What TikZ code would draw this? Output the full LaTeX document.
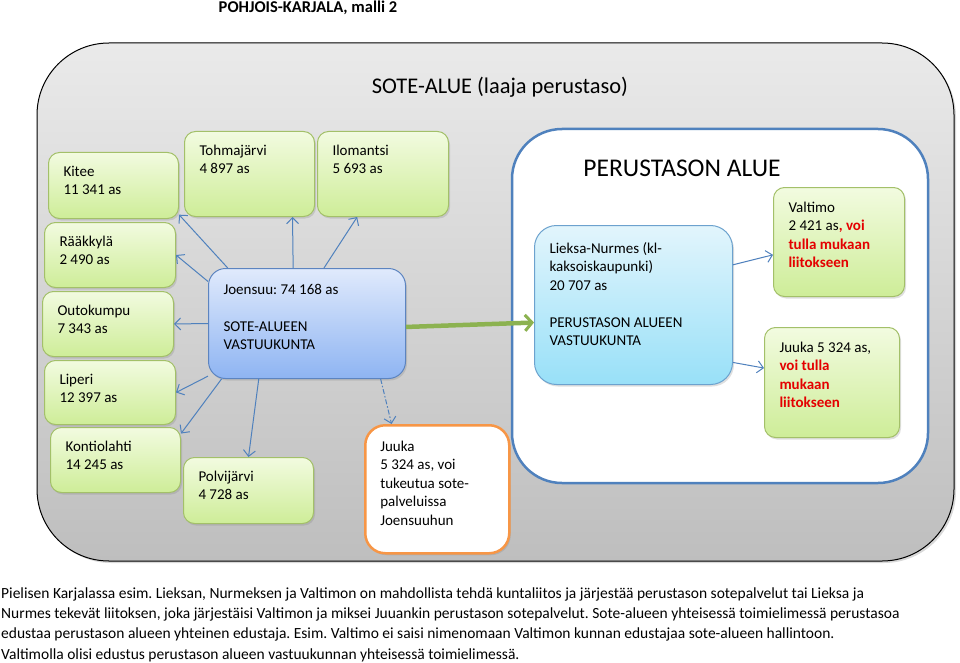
\documentclass[tikz,border=0pt]{standalone}
\usepackage{fontspec}
\setmainfont{Carlito}
\usepackage{xcolor}
\usepackage{tikz}
\usetikzlibrary{arrows.meta,shadows}
\definecolor{greenT}{RGB}{242,251,224}
\definecolor{greenB}{RGB}{206,237,152}
\definecolor{greenL}{RGB}{163,192,105}
\definecolor{joeT}{RGB}{224,234,252}
\definecolor{joeB}{RGB}{142,180,242}
\definecolor{joeL}{RGB}{92,132,192}
\definecolor{lieT}{RGB}{226,245,252}
\definecolor{lieB}{RGB}{152,224,248}
\definecolor{lieL}{RGB}{108,162,206}
\definecolor{orangeL}{RGB}{247,150,70}
\definecolor{linkB}{RGB}{79,129,189}
\definecolor{linkG}{RGB}{140,178,80}
\definecolor{redtxt}{RGB}{228,0,0}
\definecolor{soteT}{RGB}{234,234,234}
\definecolor{soteB}{RGB}{190,190,190}
\newcommand{\boxtxt}[4][11pt]{\parbox[c][#3pt][t]{\dimexpr#2pt-30pt\relax}{\raggedright\vspace*{#1}\strut#4}}
\newcommand{\hl}[1]{\textcolor{redtxt}{\bfseries #1}}
\frenchspacing

\begin{document}
\begin{tikzpicture}[x=1pt,y=-1pt,font=\fontsize{15}{18.5}\selectfont,
  box/.style={draw,line width=1pt,anchor=north west,inner xsep=15pt,inner ysep=0pt,
    drop shadow={shadow xshift=1.5pt,shadow yshift=-2pt,opacity=0.25}},
  muni/.style={box,rounded corners=11pt,draw=greenL,top color=greenT,bottom color=greenB},
  joe/.style={box,rounded corners=17pt,draw=joeL,top color=joeT,bottom color=joeB},
  lie/.style={box,rounded corners=22pt,draw=lieL,top color=lieT,bottom color=lieB},
  tuki/.style={box,rounded corners=20pt,draw=orangeL,line width=2.5pt,fill=white},
  link/.style={draw=linkB,line width=1pt,-{Straight Barb[length=6pt,width=12pt]}},
  linkd/.style={link,dash pattern=on 5pt off 2pt on 1.5pt off 2pt},
  hand/.style={draw=linkG,line width=4.5pt,-{Straight Barb[length=7pt,width=16pt,line width=3pt]}}]
  \useasboundingbox (0,0) rectangle (960,663);
  % areas
  \node[font=\fontsize{16.5}{19}\selectfont\bfseries] (title) at (308,8) {POHJOIS-KARJALA, malli 2};
  \draw[rounded corners=72pt,line width=1pt,top color=soteT,bottom color=soteB,
    drop shadow={shadow xshift=2pt,shadow yshift=-2pt,opacity=0.3}] (37,43) rectangle (954,561);
  \node[font=\fontsize{22.4}{26}\selectfont] (sote) at (500,87) {SOTE-ALUE (laaja perustaso)};
  \draw[rounded corners=50pt,line width=2.5pt,draw=linkB,fill=white] (512,129) rectangle (928,483);
  \node[font=\fontsize{25.5}{28}\selectfont] (perus) at (682,168) {PERUSTASON ALUE};
  % municipalities round Joensuu
  \node[muni] (kitee)  at (48,152)  {\boxtxt{130}{66}{Kitee\\11 341 as}};
  \node[muni] (tohma)  at (184,131) {\boxtxt{130}{85}{Tohmajärvi\\4 897 as}};
  \node[muni] (ilom)   at (317,131) {\boxtxt{131}{85}{Ilomantsi\\5 693 as}};
  \node[muni] (raakky) at (44,222)  {\boxtxt{131}{65}{Rääkkylä\\2 490 as}};
  \node[muni] (outo)   at (42,291)  {\boxtxt{131}{65}{Outokumpu\\7 343 as}};
  \node[muni] (liperi) at (44,360)  {\boxtxt{131}{64}{Liperi\\12 397 as}};
  \node[muni] (kontio) at (50,427)  {\boxtxt{130}{65}{Kontiolahti\\14 245 as}};
  \node[muni] (polvi)  at (183,457) {\boxtxt{130}{66}{Polvijärvi\\4 728 as}};
  \node[tuki] (juukaS) at (364,424) {\boxtxt[13pt]{144}{128}{Juuka\\5 324 as, voi\\tukeutua sote-\\palveluissa\\Joensuuhun}};
  \node[joe]  (joensuu) at (208,268) {\boxtxt[13pt]{197}{110}{Joensuu: 74 168 as\\[18.5pt]SOTE-ALUEEN\\VASTUUKUNTA}};
  % basic level area
  \node[lie]  (lieksa)  at (534,225) {\boxtxt[15pt]{198}{159}{Lieksa-Nurmes (kl-\\kaksoiskaupunki)\\20 707 as\\[18.5pt]PERUSTASON ALUEEN\\VASTUUKUNTA}};
  \node[muni] (valtimo) at (773,187) {\boxtxt[12pt]{131}{109}{Valtimo\\2 421 as\hl{, voi}\\\hl{tulla mukaan}\\\hl{liitokseen}}};
  \node[muni] (juukaP)  at (764,327) {\boxtxt[12pt]{135}{110}{Juuka 5 324 as,\\\hl{voi tulla}\\\hl{mukaan}\\\hl{liitokseen}}};
  % links
  \draw[link] (joensuu.145) -- (kitee.-24);
  \draw[link] (joensuu.104) -- (tohma.-45);
  \draw[link] (joensuu.73) -- (ilom.-121);
  \draw[link] (joensuu.157) -- (raakky.east);
  \draw[link] (joensuu.west) -- (outo.east);
  \draw[link] (joensuu.-152) -- (liperi.east);
  \draw[link] (joensuu.-147) -- (kontio.22);
  \draw[link] (joensuu.-131) -- (polvi.north);
  \draw[linkd] (joensuu.-37) -- (juukaS.125);
  \draw[hand] (joensuu.-2) -- (lieksa.190);
  \draw[link] (lieksa.22) -- (valtimo.191);
  \draw[link] (lieksa.-30) -- (juukaP.168);
  % note
  \node[anchor=north west,align=left,inner sep=0pt,font=\fontsize{15.5}{20.2}\selectfont] (note) at (1,587.5)
    {Pielisen Karjalassa esim. Lieksan, Nurmeksen ja Valtimon on mahdollista tehdä kuntaliitos ja järjestää perustason sotepalvelut tai Lieksa ja\\
     Nurmes tekevät liitoksen, joka järjestäisi Valtimon ja miksei Juuankin perustason sotepalvelut. Sote-alueen yhteisessä toimielimessä perustasoa\\
     edustaa perustason alueen yhteinen edustaja. Esim. Valtimo ei saisi nimenomaan Valtimon kunnan edustajaa sote-alueen hallintoon.\\
     Valtimolla olisi edustus perustason alueen vastuukunnan yhteisessä toimielimessä.};
\end{tikzpicture}
\end{document}
